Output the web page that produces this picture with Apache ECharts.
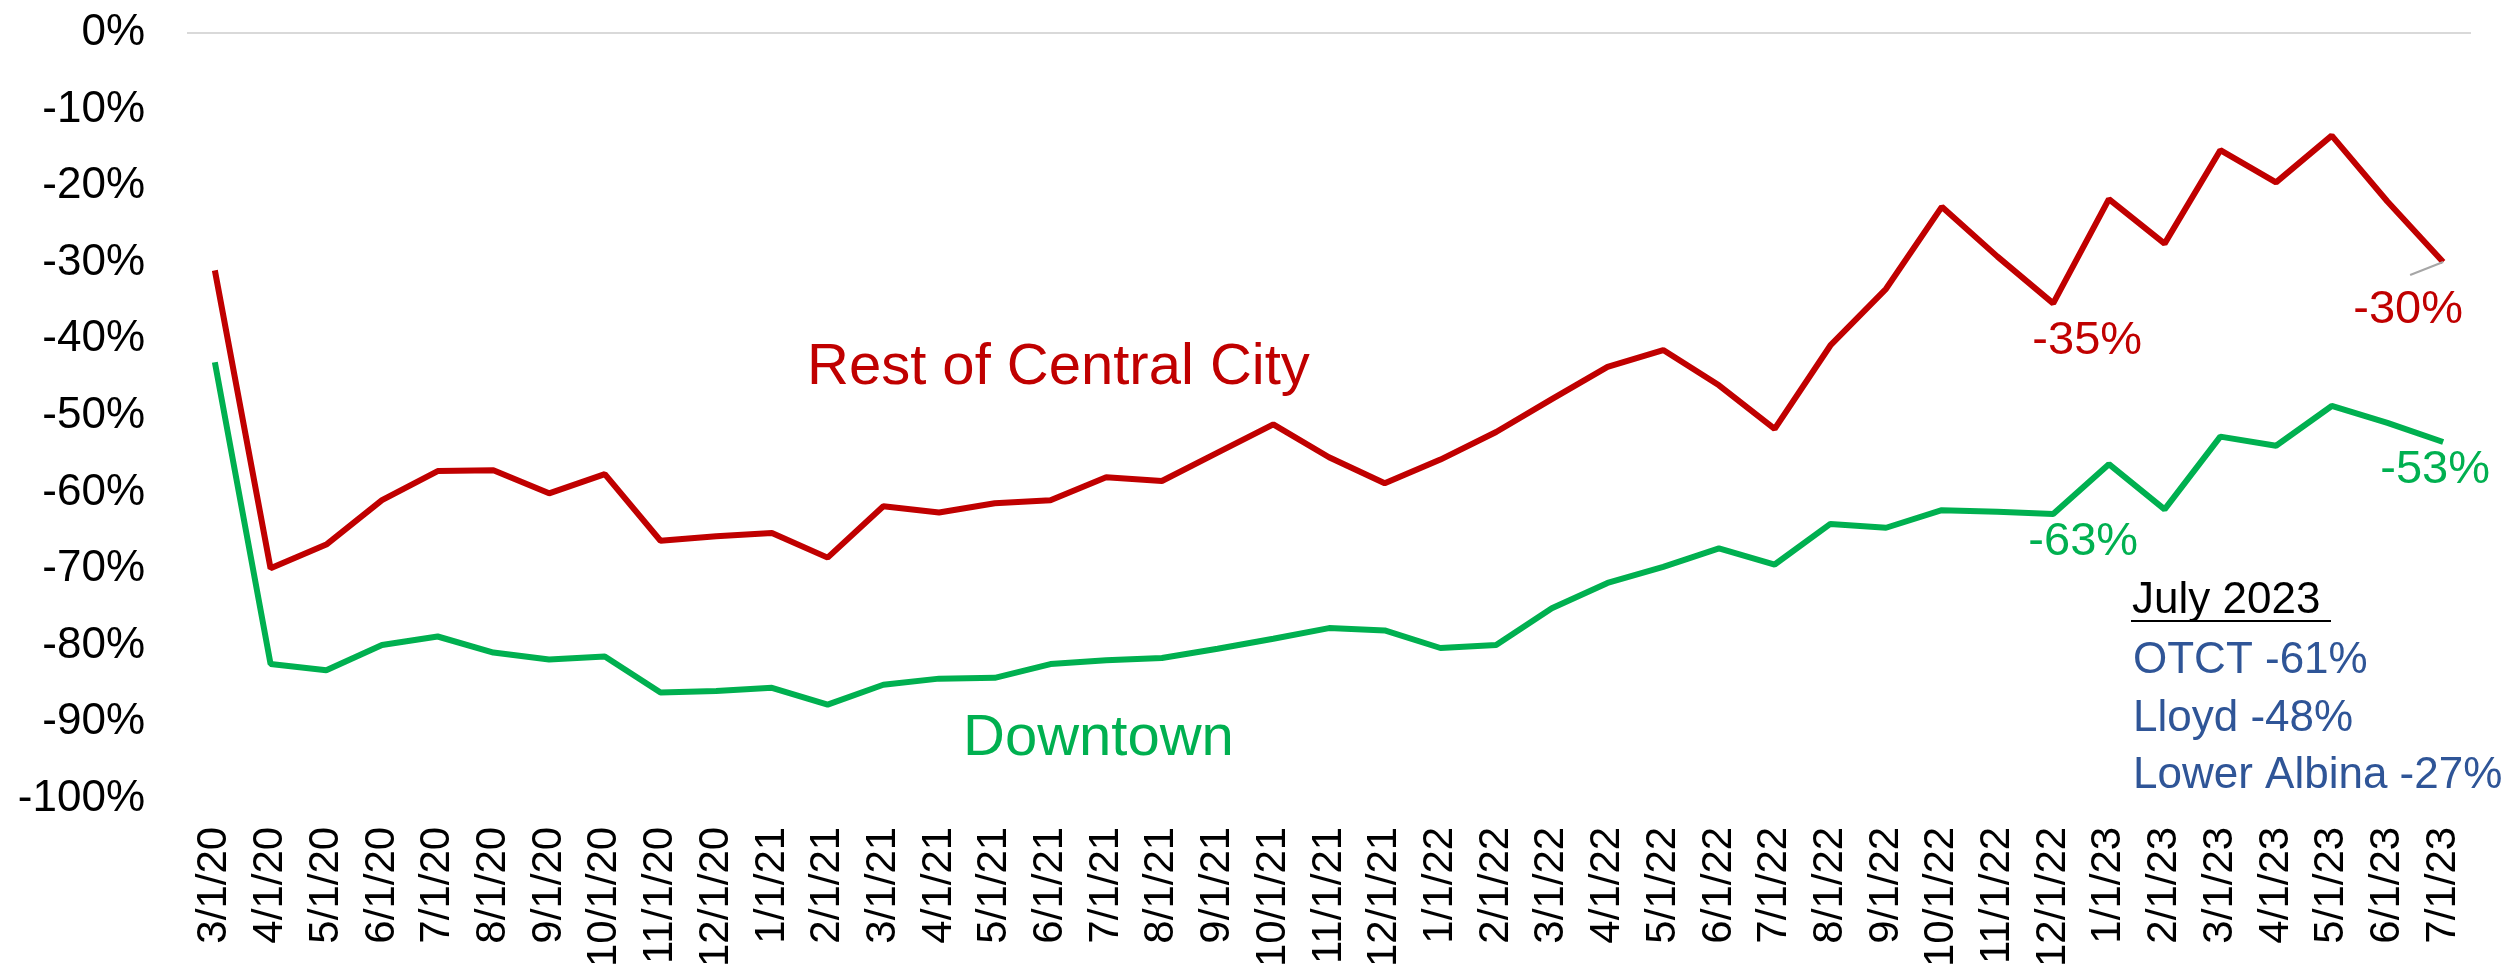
<!DOCTYPE html>
<html>
<head>
<meta charset="utf-8">
<style>
  html, body { margin: 0; padding: 0; background: #fff; }
  #chart { width: 2504px; height: 970px; }
</style>
<script src="https://cdn.jsdelivr.net/npm/echarts@6/dist/echarts.min.js"></script>
</head>
<body>
<div id="chart"></div>
<script>
const months = [
  "3/1/20", "4/1/20", "5/1/20", "6/1/20", "7/1/20", "8/1/20", "9/1/20", "10/1/20", "11/1/20", "12/1/20",
  "1/1/21", "2/1/21", "3/1/21", "4/1/21", "5/1/21", "6/1/21", "7/1/21", "8/1/21", "9/1/21", "10/1/21", "11/1/21", "12/1/21",
  "1/1/22", "2/1/22", "3/1/22", "4/1/22", "5/1/22", "6/1/22", "7/1/22", "8/1/22", "9/1/22", "10/1/22", "11/1/22", "12/1/22",
  "1/1/23", "2/1/23", "3/1/23", "4/1/23", "5/1/23", "6/1/23", "7/1/23"
];
// % change vs. baseline
const restOfCentralCity = [
  -31.0, -69.9, -66.8, -61.0, -57.2, -57.1, -60.1, -57.6, -66.3, -65.7,
  -65.3, -68.5, -61.8, -62.6, -61.4, -61.0, -58.0, -58.5, -54.8, -51.1, -55.4, -58.8,
  -55.7, -52.1, -47.8, -43.6, -41.4, -46.0, -51.7, -40.8, -33.4, -22.7, -29.2, -35.3,
  -21.7, -27.5, -15.3, -19.5, -13.4, -22.0, -29.9
];
const downtown = [
  -43.0, -82.4, -83.2, -79.9, -78.8, -80.9, -81.8, -81.4, -86.1, -85.9,
  -85.5, -87.7, -85.1, -84.3, -84.2, -82.4, -81.9, -81.6, -80.4, -79.1, -77.7, -78.0,
  -80.3, -79.9, -75.1, -71.8, -69.7, -67.3, -69.4, -64.1, -64.6, -62.3, -62.5, -62.8,
  -56.3, -62.2, -52.7, -53.9, -48.7, -50.9, -53.4
];
const yTicks = [0, -10, -20, -30, -40, -50, -60, -70, -80, -90, -100];
const july2023 = ["OTCT -61%", "Lloyd -48%", "Lower Albina -27%"];

const FONT = "'Liberation Sans', Arial, sans-serif";
const RED = "#C00000";
const GREEN = "#00B050";
const BLUE = "#2F5597";

// points that get a value label, with the label offset from the point
function withLabels(values, color, labelled) {
  return values.map((v, i) => {
    if (!labelled[i]) return v;
    return {
      value: v,
      label: {
        show: true,
        position: "inside",
        offset: labelled[i],
        formatter: (p) => Math.round(p.value) + "%",
        color: color,
        fontSize: 47,
        fontFamily: FONT,
      },
    };
  });
}

const myChart = echarts.init(document.getElementById("chart"));
const option = {
  animation: false,
  backgroundColor: "#fff",
  grid: { left: 187, right: 33, top: 33, bottom: 167, containLabel: false },
  xAxis: {
    type: "category",
    data: months,
    boundaryGap: true,
    axisLine: { show: false },
    axisTick: { show: false },
    splitLine: { show: false },
    axisLabel: {
      interval: 0,
      rotate: 90,
      margin: 28,
      color: "#000",
      fontSize: 42,
      fontFamily: FONT,
    },
  },
  yAxis: {
    type: "value",
    min: yTicks[yTicks.length - 1],
    max: yTicks[0],
    interval: 10,
    axisLine: { show: false },
    axisTick: { show: false },
    splitLine: { show: false },
    axisLabel: {
      margin: 42,
      color: "#000",
      fontSize: 44,
      fontFamily: FONT,
      formatter: "{value}%",
    },
  },
  series: [
    {
      name: "Rest of Central City",
      type: "line",
      data: withLabels(restOfCentralCity, RED, { 33: [34, 38], 40: [-35, 48] }),
      symbol: "circle",
      symbolSize: 0,
      showSymbol: true,
      lineStyle: { color: RED, width: 6 },
      itemStyle: { color: RED },
      markLine: {
        silent: true,
        symbol: "none",
        label: { show: false },
        lineStyle: { color: "#d9d9d9", width: 2, type: "solid" },
        data: [{ yAxis: 0 }],
      },
      z: 3,
    },
    {
      name: "Downtown",
      type: "line",
      data: withLabels(downtown, GREEN, { 33: [30, 28], 40: [-8, 28] }),
      symbol: "circle",
      symbolSize: 0,
      showSymbol: true,
      lineStyle: { color: GREEN, width: 6 },
      itemStyle: { color: GREEN },
      z: 3,
    },
  ],
  graphic: [
    {
      type: "text",
      left: 807,
      top: 372 - 33,
      style: { text: "Rest of Central City", fill: RED, font: "58px " + FONT },
    },
    {
      type: "text",
      left: 963,
      top: 743 - 33,
      style: { text: "Downtown", fill: GREEN, font: "58px " + FONT },
    },
    {
      type: "text",
      left: 2132,
      top: 604 - 25,
      style: { text: "July 2023", fill: "#000", font: "44px " + FONT },
    },
    {
      type: "line",
      shape: { x1: 2131, y1: 621, x2: 2331, y2: 621 },
      style: { stroke: "#000", lineWidth: 2 },
    },
  ].concat(
    july2023.map((t, i) => ({
      type: "text",
      left: 2133,
      top: 664 - 25 + i * 57.5,
      style: { text: t, fill: BLUE, font: "44px " + FONT },
    }))
  ),
};
option && myChart.setOption(option);

// leader line from the -30% label to its point
const last = restOfCentralCity.length - 1;
const p = myChart.convertToPixel({ seriesIndex: 0 }, [last, restOfCentralCity[last]]);
myChart.setOption({
  graphic: option.graphic.concat([
    {
      type: "line",
      shape: { x1: p[0] - 33, y1: p[1] + 13, x2: p[0], y2: p[1] },
      style: { stroke: "#a6a6a6", lineWidth: 2 },
      z: 5,
    },
  ]),
});
</script>
</body>
</html>
